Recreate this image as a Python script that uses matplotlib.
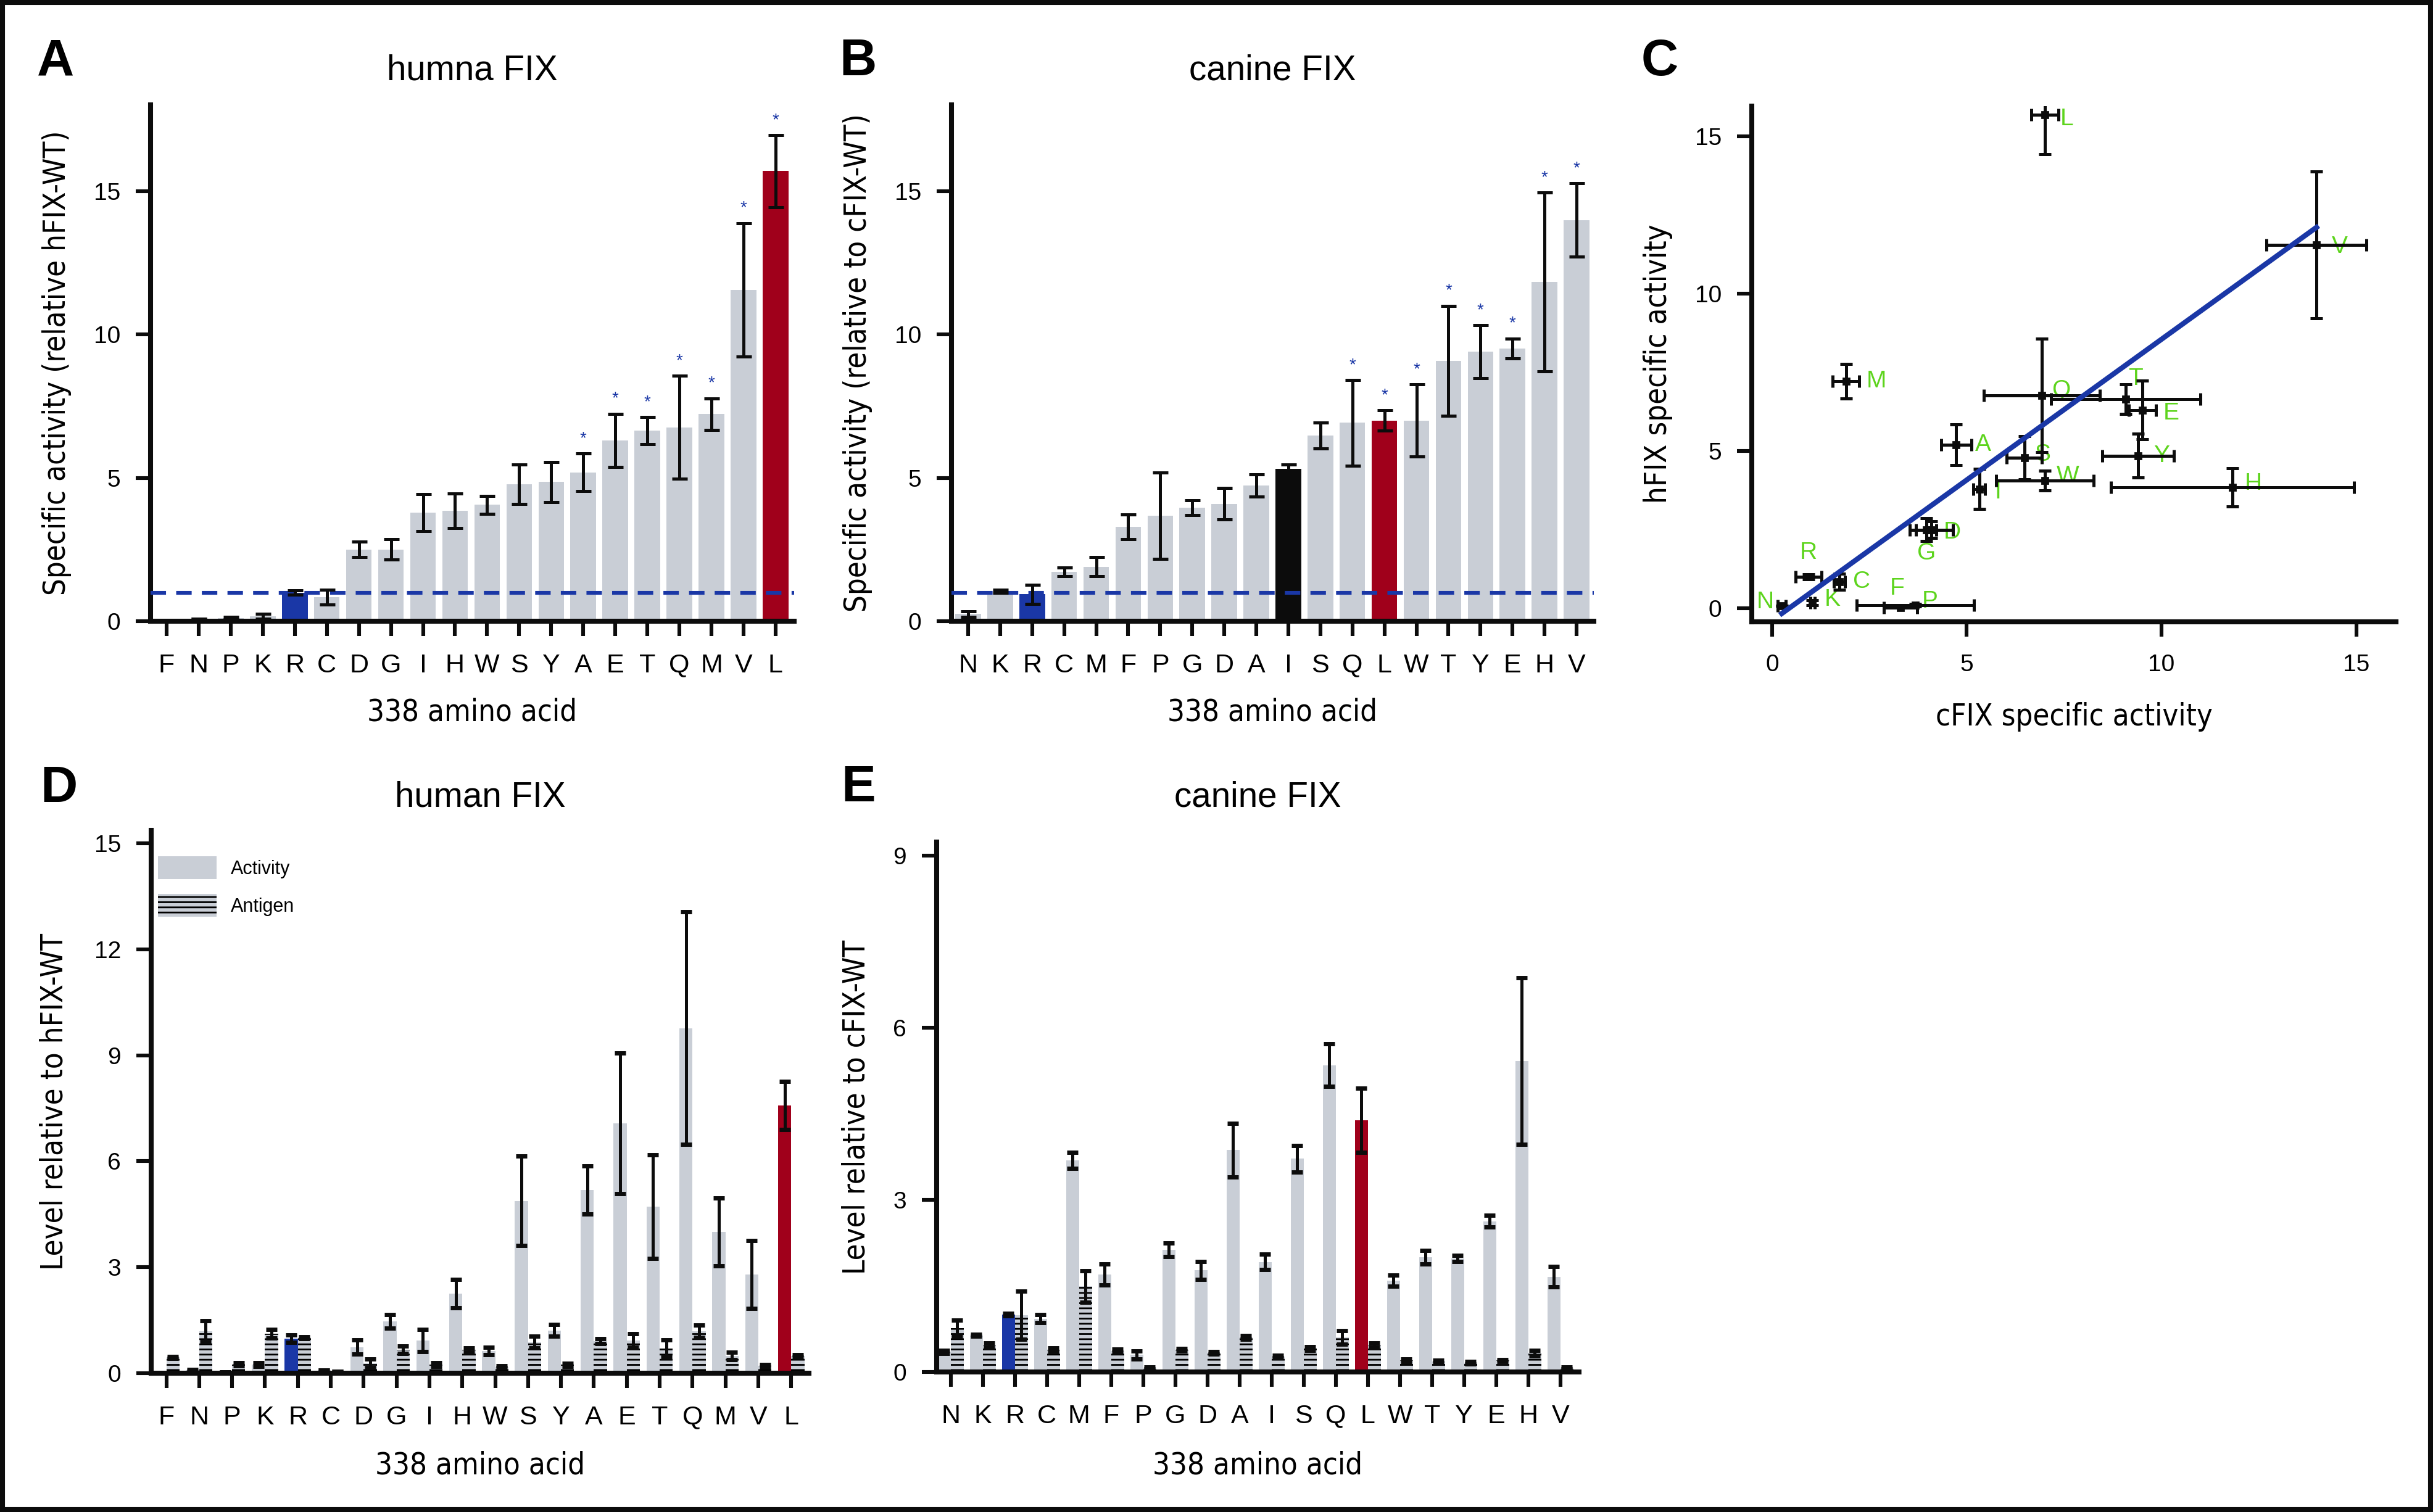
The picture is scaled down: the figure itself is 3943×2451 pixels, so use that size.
import numpy as np
import matplotlib
matplotlib.use("Agg")
import matplotlib.pyplot as plt
from matplotlib import font_manager
from matplotlib.font_manager import FontProperties
from matplotlib.patches import Rectangle, Patch

W, H, DPI = 3943, 2451, 200

# --- panel A: human FIX specific activity (relative to hFIX-WT)
a_aa = ["F", "N", "P", "K", "R", "C", "D", "G", "I", "H", "W", "S", "Y", "A", "E", "T", "Q", "M", "V", "L"]
a_val = [0.02, 0.08, 0.1, 0.17, 1.0, 0.84, 2.5, 2.5, 3.79, 3.85, 4.06, 4.78, 4.85, 5.19, 6.3, 6.64, 6.76, 7.22, 11.55, 15.69]
a_err = [0, 0, 0.04, 0.08, 0.07, 0.26, 0.27, 0.36, 0.64, 0.61, 0.31, 0.69, 0.7, 0.65, 0.93, 0.47, 1.8, 0.55, 2.33, 1.25]
a_star = ["A", "E", "T", "Q", "M", "V", "L"]

# --- panel B: canine FIX specific activity (relative to cFIX-WT)
b_aa = ["N", "K", "R", "C", "M", "F", "P", "G", "D", "A", "I", "S", "Q", "L", "W", "T", "Y", "E", "H", "V"]
b_val = [0.25, 1.04, 0.94, 1.73, 1.9, 3.3, 3.68, 3.96, 4.09, 4.73, 5.32, 6.48, 6.92, 7.0, 7.0, 9.08, 9.4, 9.51, 11.82, 13.98]
b_err = [0.1, 0.05, 0.33, 0.15, 0.34, 0.43, 1.5, 0.26, 0.55, 0.39, 0.15, 0.45, 1.49, 0.35, 1.25, 1.92, 0.92, 0.35, 3.12, 1.28]
b_star = ["Q", "L", "W", "T", "Y", "E", "H", "V"]

# --- panel C: fitted line
fit_slope, fit_icept = 0.894, -0.39

# --- panel D: human FIX activity / antigen levels
d_aa = a_aa
d_act = [0.02, 0.08, 0.03, 0.25, 0.98, 0.08, 0.74, 1.47, 0.93, 2.26, 0.63, 4.88, 1.21, 5.19, 7.07, 4.72, 9.77, 4.0, 2.79, 7.58]
d_act_err = [0, 0.03, 0, 0.05, 0.1, 0, 0.2, 0.19, 0.31, 0.4, 0.1, 1.26, 0.17, 0.68, 1.99, 1.47, 3.29, 0.96, 0.96, 0.68]
d_ag = [0.45, 1.19, 0.25, 1.12, 1.0, 0.06, 0.28, 0.66, 0.24, 0.66, 0.18, 0.88, 0.24, 0.91, 0.93, 0.7, 1.19, 0.49, 0.21, 0.49]
d_ag_err = [0.03, 0.3, 0.04, 0.12, 0.03, 0, 0.12, 0.1, 0.05, 0.06, 0.03, 0.17, 0.04, 0.07, 0.19, 0.24, 0.17, 0.11, 0.04, 0.04]

# --- panel E: canine FIX activity / antigen levels
e_aa = b_aa
e_act = [0.35, 0.64, 1.0, 0.93, 3.69, 1.7, 0.3, 2.13, 1.77, 3.87, 1.92, 3.72, 5.35, 4.39, 1.59, 2.0, 1.98, 2.63, 5.42, 1.66]
e_act_err = [0.03, 0.02, 0.02, 0.07, 0.14, 0.18, 0.07, 0.12, 0.16, 0.47, 0.13, 0.23, 0.37, 0.56, 0.1, 0.12, 0.05, 0.1, 1.45, 0.18]
e_ag = [0.76, 0.47, 0.99, 0.39, 1.49, 0.37, 0.07, 0.39, 0.33, 0.6, 0.27, 0.41, 0.6, 0.47, 0.2, 0.18, 0.16, 0.2, 0.33, 0.07]
e_ag_err = [0.14, 0.04, 0.42, 0.03, 0.27, 0.03, 0.02, 0.02, 0.02, 0.03, 0.02, 0.03, 0.12, 0.04, 0.03, 0.02, 0.02, 0.02, 0.05, 0.02]

GREY = "#c9ced6"
BLUE = "#1a37a6"
RED = "#a0001b"
INK = "#0c0c0c"
GREEN = "#5dd41d"

plt.rcParams["font.family"] = ["Liberation Sans", "DejaVu Sans"]
plt.rcParams["hatch.linewidth"] = 1.0


def pick_narrow():
    # look for any installed condensed sans face, narrowest first
    rank = {"ultra-condensed": 0, "extra-condensed": 1, "condensed": 2, "semi-condensed": 3}
    best = None
    for f in font_manager.fontManager.ttflist:
        nm = f.name.lower()
        fn = f.fname.lower()
        if f.style != "normal" or "mono" in nm or "serif" in nm.replace("sans", ""):
            continue
        st = f.stretch if isinstance(f.stretch, str) else ""
        r = rank.get(st)
        if r is None:
            if "extracondensed" in fn or "extra condensed" in nm:
                r = 1
            elif "narrow" in nm or "condensed" in nm or "condensed" in fn:
                r = 2
            else:
                continue
        w = f.weight if isinstance(f.weight, (int, float)) else font_manager.weight_dict.get(f.weight, 400)
        key = (r, abs(w - 450))
        if best is None or key < best[0]:
            best = (key, f.fname)
    return best[1] if best else None


NARROW_FILE = pick_narrow()


def lab_font(size):
    if NARROW_FILE:
        return FontProperties(fname=NARROW_FILE, size=size)
    return FontProperties(family="Liberation Sans", size=size)


fig = plt.figure(figsize=(W / DPI, H / DPI), dpi=DPI)

# size the axis-label font from the width of "338 amino acid", at most 19 pt
probe = fig.text(0, 0, "338 amino acid", fontproperties=lab_font(20))
fig.canvas.draw()
pw = probe.get_window_extent().width
probe.remove()
LAB_SIZE = min(19.0, 20 * 340 / pw)


def px_axes(box):
    l, t, r, b = box
    return fig.add_axes([l / W, 1 - b / H, (r - l) / W, (b - t) / H])


def style(ax, box, xlab, ylab, xlab_top, ylab_right, xsize=15.5):
    l, t, r, b = box
    for s in ["top", "right"]:
        ax.spines[s].set_visible(False)
    for s in ["left", "bottom"]:
        ax.spines[s].set_linewidth(2.9)
        ax.spines[s].set_color(INK)
    ax.tick_params(axis="x", length=8.6, width=2.2, pad=10, labelsize=xsize, color=INK)
    ax.tick_params(axis="y", length=8.6, width=2.2, pad=9, labelsize=14, color=INK)
    ax.set_xlabel(xlab, fontproperties=lab_font(LAB_SIZE))
    ax.set_ylabel(ylab, fontproperties=lab_font(LAB_SIZE))
    ax.xaxis.set_label_coords(0.5, (b - xlab_top) / (b - t))
    ax.yaxis.set_label_coords((ylab_right - l) / (r - l), 0.5)


def title(box, text, base_y):
    l, t, r, b = box
    fig.text((l + r) / 2 / W, 1 - base_y / H, text, ha="center", va="baseline", fontsize=20.4)


def letter(text, x, y):
    fig.text(x / W, 1 - y / H, text, ha="left", va="baseline", fontsize=30, fontweight="bold")


def activity_panel(box, aa, val, err, stars, special, ylab, xlim):
    ax = px_axes(box)
    x = np.arange(len(aa))
    colors = [special.get(k, GREY) for k in aa]
    ax.bar(x, val, 0.8, color=colors, zorder=2)
    ax.axhline(1.0, color=BLUE, lw=2.2, dashes=(4.1, 2.7), zorder=3)
    ax.errorbar(x, val, yerr=err, fmt="none", ecolor=INK, elinewidth=1.8,
                capsize=4.5, capthick=1.8, zorder=4)
    for k in stars:
        i = aa.index(k)
        ax.annotate("*", (i, val[i] + err[i]), xytext=(0, 4), textcoords="offset points",
                    ha="center", va="bottom", color=BLUE, fontsize=10)
    ax.set_xticks(x)
    ax.set_xticklabels(aa)
    ax.set_yticks([0, 5, 10, 15])
    ax.set_xlim(*xlim)
    ax.set_ylim(0, 18)
    style(ax, box, "338 amino acid", ylab, 1130, box[0] - 128)
    return ax


def level_panel(box, aa, act, act_err, ag, ag_err, special, ylab, xlim, ylim, yticks, legend=False):
    ax = px_axes(box)
    x = np.arange(len(aa))
    colors = [special.get(k, GREY) for k in aa]
    ax.bar(x - 0.2, act, 0.4, color=colors, zorder=2)
    ax.bar(x + 0.2, ag, 0.4, color=GREY, hatch="----", edgecolor="black", linewidth=0, zorder=2)
    ax.errorbar(x - 0.2, act, yerr=act_err, fmt="none", ecolor=INK, elinewidth=1.8,
                capsize=3.2, capthick=2.5, zorder=4)
    ax.errorbar(x + 0.2, ag, yerr=ag_err, fmt="none", ecolor=INK, elinewidth=1.8,
                capsize=3.2, capthick=2.5, zorder=4)
    ax.set_xticks(x)
    ax.set_xticklabels(aa)
    ax.set_yticks(yticks)
    ax.set_xlim(*xlim)
    ax.set_ylim(*ylim)
    style(ax, box, "338 amino acid", ylab, 2351, box[0] - 133 if box[0] < 1000 else 1412)
    if legend:
        l, t, r, b = box
        handles = [Patch(facecolor=GREY, label="Activity"),
                   Patch(facecolor=GREY, hatch="----", edgecolor="black", linewidth=0, label="Antigen")]
        ax.legend(handles=handles, loc="upper left",
                  bbox_to_anchor=((256 - l) / (r - l), (b - 1388) / (b - t)),
                  frameon=False, fontsize=11, borderpad=0, borderaxespad=0,
                  handlelength=3.1, handleheight=1.5, handletextpad=0.75, labelspacing=0.77)
    return ax


box_a = (244, 170, 1287, 1007)
box_b = (1542, 170, 2583, 1007)
box_c = (2839, 172, 3883, 1008)
box_d = (245, 1346, 1311, 2226)
box_e = (1518, 1365, 2559, 2224)

activity_panel(box_a, a_aa, a_val, a_err, a_star, {"R": BLUE, "L": RED},
               "Specific activity (relative hFIX-WT)", (-0.5, 19.58))
activity_panel(box_b, b_aa, b_val, b_err, b_star, {"R": BLUE, "L": RED, "I": INK},
               "Specific activity (relative to cFIX-WT)", (-0.52, 19.54))

# panel C: cFIX vs hFIX specific activity
ax = px_axes(box_c)
a_map = dict(zip(a_aa, zip(a_val, a_err)))
b_map = dict(zip(b_aa, zip(b_val, b_err)))
cx = [b_map[k][0] for k in a_aa]
cxe = [b_map[k][1] for k in a_aa]
cy = [a_map[k][0] for k in a_aa]
cye = [a_map[k][1] for k in a_aa]
ax.errorbar(cx, cy, xerr=cxe, yerr=cye, fmt="s", color=INK, ms=3.5, elinewidth=1.8,
            capsize=3.6, capthick=1.8, zorder=2)
x0, x1 = min(cx), max(cx)
ax.plot([x0, x1], [fit_slope * x0 + fit_icept, fit_slope * x1 + fit_icept], color=BLUE, lw=3, zorder=3)
lab_off = {"L": (9, -2.5), "V": (9, -1), "M": (12, 0), "Q": (6, 3), "T": (1.5, 12), "E": (12, -2),
           "A": (11, 0), "S": (6, 2), "Y": (9, 0), "W": (7, 2.5), "H": (7, 2), "I": (9, -2),
           "D": (7, -1.5), "G": (0, -14), "R": (0, 14), "C": (8, 0), "K": (7, 2), "N": (-4.5, 2),
           "F": (-2, 11), "P": (4, 2)}
lab_ha = {"G": "center", "R": "center", "F": "center", "N": "right"}
for k, xv, yv in zip(a_aa, cx, cy):
    ax.annotate(k, (xv, yv), xytext=lab_off[k], textcoords="offset points",
                ha=lab_ha.get(k, "left"), va="center", color=GREEN, fontsize=14, zorder=1.5)
ax.set_xticks([0, 5, 10, 15])
ax.set_yticks([0, 5, 10, 15])
ax.set_xlim(-0.52, 16.02)
ax.set_ylim(-0.43, 15.96)
style(ax, box_c, "cFIX specific activity", "hFIX specific activity", 1138, 2711, xsize=14)

level_panel(box_d, d_aa, d_act, d_act_err, d_ag, d_ag_err, {"R": BLUE, "L": RED},
            "Level relative to hFIX-WT", (-0.46, 19.54), (0, 15.37), [0, 3, 6, 9, 12, 15], legend=True)
level_panel(box_e, e_aa, e_act, e_act_err, e_ag, e_ag_err, {"R": BLUE, "L": RED},
            "Level relative to cFIX-WT", (-0.44, 19.58), (0, 9.24), [0, 3, 6, 9])

title(box_a, "humna FIX", 130)
title(box_b, "canine FIX", 130)
title(box_d, "human FIX", 1308)
title(box_e, "canine FIX", 1308)

letter("A", 60, 122)
letter("B", 1360, 122)
letter("C", 2660, 122)
letter("D", 65, 1300)
letter("E", 1363, 1299)

fig.add_artist(Rectangle((0, 0), 1, 1, transform=fig.transFigure, fill=False,
                         edgecolor=INK, linewidth=5.8))

fig.savefig("out.png", dpi=DPI)
